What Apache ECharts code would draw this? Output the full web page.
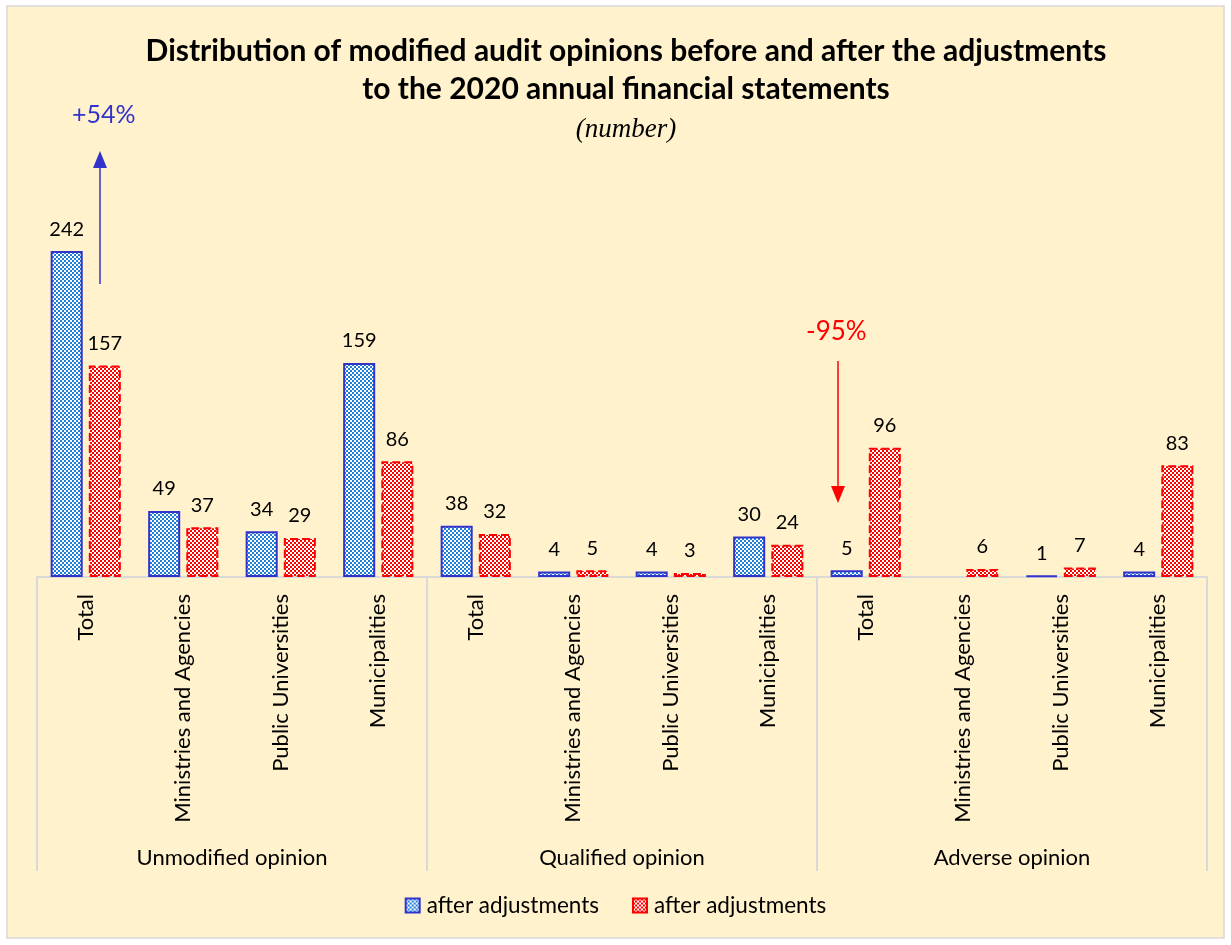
<!DOCTYPE html>
<html>
<head>
<meta charset="utf-8">
<script src="https://cdn.jsdelivr.net/npm/echarts@6/dist/echarts.min.js"></script>
<style>
  html, body { margin: 0; padding: 0; background: #fff; }
  #chart { width: 1231px; height: 945px; }
</style>
</head>
<body>
<div id="chart"></div>
<script>
// data
const categories = [
  'Total', 'Ministries and Agencies', 'Public Universities', 'Municipalities',
  'Total', 'Ministries and Agencies', 'Public Universities', 'Municipalities',
  'Total', 'Ministries and Agencies', 'Public Universities', 'Municipalities'
]
const groups = ['Unmodified opinion', 'Qualified opinion', 'Adverse opinion']
const blueValues = [242, 49, 34, 159, 38, 4, 4, 30, 5, 0, 1, 4]
const redValues = [157, 37, 29, 86, 32, 5, 3, 24, 96, 6, 7, 83]
const seriesNames = ['after adjustments', 'after adjustments']

const FONT = 'Lato, "Open Sans", sans-serif'

// small checkerboard fill like the Excel pattern
const makePattern = (fg) => {
  const c = document.createElement('canvas')
  c.width = 4
  c.height = 4
  const ctx = c.getContext('2d')
  ctx.fillStyle = '#ffffff'
  ctx.fillRect(0, 0, 4, 4)
  ctx.fillStyle = fg
  ctx.fillRect(0, 0, 2, 2)
  ctx.fillRect(2, 2, 2, 2)
  return { image: c, repeat: 'repeat' }
}

// zero bars get no outline (Excel draws nothing there)
const toBarData = (arr) => arr.map(v => (v === 0 ? { value: 0, itemStyle: { borderWidth: 0 } } : v))

const chart = echarts.init(document.getElementById('chart'))

const labelOpt = {
  show: true,
  position: 'top',
  distance: 12,
  color: '#000',
  fontFamily: FONT,
  fontSize: 20,
  formatter: (p) => (p.value === 0 ? '' : p.value)
}

const option = {
  backgroundColor: '#fff',
  animation: false,
  title: {
    text: 'Distribution of modified audit opinions before and after the adjustments\nto the 2020 annual financial statements',
    subtext: '(number)',
    left: 621,
    top: 27,
    itemGap: 7,
    textAlign: 'center',
    textStyle: {
      fontFamily: FONT,
      fontWeight: 'bold',
      fontSize: 30,
      lineHeight: 38,
      color: '#000'
    },
    subtextStyle: {
      fontFamily: '"Liberation Serif", serif',
      fontStyle: 'italic',
      fontSize: 27,
      lineHeight: 30,
      color: '#000'
    }
  },
  legend: {
    bottom: 23,
    left: 'center',
    icon: 'rect',
    itemWidth: 14,
    itemHeight: 14,
    itemGap: 33,
    data: ['before', 'after'],
    formatter: (name) => (name === 'before' ? seriesNames[0] : seriesNames[1]),
    textStyle: { fontFamily: FONT, fontSize: 22.5, color: '#000', padding: [0, 0, 0, 2] }
  },
  grid: { left: 37, right: 24, top: 173, bottom: 368, containLabel: false },
  xAxis: [
    {
      type: 'category',
      data: categories,
      position: 'bottom',
      axisLine: { lineStyle: { color: '#d9d9d9', width: 1.5 } },
      axisTick: { show: false },
      axisLabel: {
        interval: 0,
        rotate: 90,
        margin: 17,
        color: '#000',
        fontFamily: FONT,
        fontSize: 22
      }
    },
    {
      type: 'category',
      data: groups,
      position: 'bottom',
      axisLine: { lineStyle: { color: '#d9d9d9', width: 1.5 } },
      axisTick: { show: true, length: 294, lineStyle: { color: '#d9d9d9', width: 2 } },
      axisLabel: {
        interval: 0,
        margin: 270,
        color: '#000',
        fontFamily: FONT,
        fontSize: 22
      }
    }
  ],
  yAxis: {
    type: 'value',
    min: 0,
    max: 300,
    show: false,
    splitLine: { show: false }
  },
  graphic: [
    {
      type: 'rect',
      shape: { x: 7, y: 6, width: 1217, height: 932 },
      style: { fill: '#fff2cc', stroke: '#d9d9d9', lineWidth: 1.5 },
      z: -10,
      silent: true
    },
    // +54% arrow
    {
      type: 'line',
      shape: { x1: 100, y1: 284, x2: 100, y2: 165 },
      style: { stroke: '#3333cc', lineWidth: 1.5 }
    },
    {
      type: 'polygon',
      shape: { points: [[100, 151], [93, 168], [107, 168]] },
      style: { fill: '#3333cc' }
    },
    {
      type: 'text',
      left: 72,
      top: 102,
      style: { text: '+54%', fill: '#3333cc', font: '25px ' + FONT }
    },
    // -95% arrow
    {
      type: 'line',
      shape: { x1: 838, y1: 361, x2: 838, y2: 490 },
      style: { stroke: '#ff0000', lineWidth: 1.5 }
    },
    {
      type: 'polygon',
      shape: { points: [[838, 503], [831, 486], [845, 486]] },
      style: { fill: '#ff0000' }
    },
    {
      type: 'text',
      left: 806,
      top: 319,
      style: { text: '-95%', fill: '#ff0000', font: '26px ' + FONT }
    }
  ],
  series: [
    {
      name: 'before',
      type: 'bar',
      data: toBarData(blueValues),
      barGap: '19%',
      barCategoryGap: '28%',
      itemStyle: {
        color: makePattern('#1f7fd6'),
        borderColor: '#3333cc',
        borderWidth: 2
      },
      label: labelOpt
    },
    {
      name: 'after',
      type: 'bar',
      data: toBarData(redValues),
      itemStyle: {
        color: makePattern('#ff0000'),
        borderColor: '#ff0000',
        borderWidth: 2,
        borderType: 'dashed'
      },
      label: labelOpt
    }
  ]
}

chart.setOption(option)
</script>
</body>
</html>
